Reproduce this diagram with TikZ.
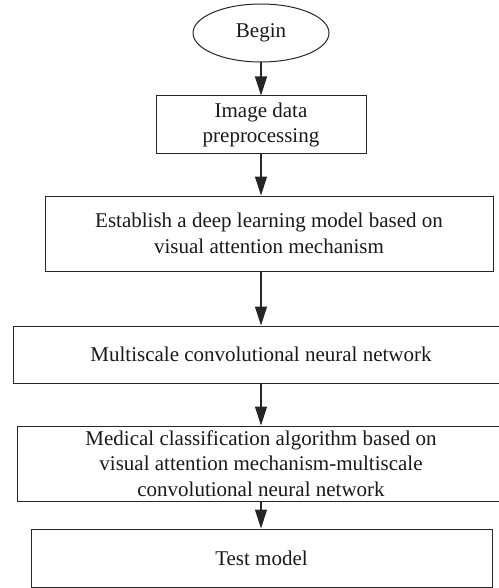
\documentclass[tikz,border=0pt]{standalone}
\usepackage{fontspec}
\setmainfont{Liberation Serif}
\usetikzlibrary{arrows.meta,shapes.geometric}
\begin{document}
\begin{tikzpicture}[x=1pt,y=-1pt,
  every node/.style={font=\fontsize{21}{25.5}\selectfont, text=black!90, align=center, inner sep=0pt},
  procbox/.style={draw=black!85, line width=1pt, rectangle},
  startnode/.style={draw=black!85, line width=1pt, ellipse},
  flow/.style={draw=black!85, line width=1.2pt, -{Triangle[length=19pt,width=12pt]}}]
\useasboundingbox (0,0) rectangle (498,588);
\node[startnode, minimum width=136pt, minimum height=58pt] (E) at (261,33) {Begin};
\node[procbox, minimum width=210pt, minimum height=58pt] (B1) at (261,125) {Image data\\preprocessing};
\node[procbox, minimum width=448pt, minimum height=75pt] (B2) at (269,233.5) {Establish a deep learning model based on\\visual attention mechanism};
\node[procbox, minimum width=496pt, minimum height=57pt] (B3) at (261,354.5) {Multiscale convolutional neural network};
\node[procbox, minimum width=488pt, minimum height=75pt] (B4) at (261,463.5) {Medical classification algorithm based on\\visual attention mechanism-multiscale\\convolutional neural network};
\node[procbox, minimum width=461pt, minimum height=58pt] (B5) at (261.5,558) {Test model};
\draw[flow] (E.south) -- (B1.north);
\draw[flow] (B1.south) -- (B1.south |- B2.north);
\draw[flow] (B1.south |- B2.south) -- (B1.south |- B3.north);
\draw[flow] (B1.south |- B3.south) -- (B1.south |- B4.north);
\draw[flow] (B1.south |- B4.south) -- (B1.south |- B5.north);
\end{tikzpicture}
\end{document}
